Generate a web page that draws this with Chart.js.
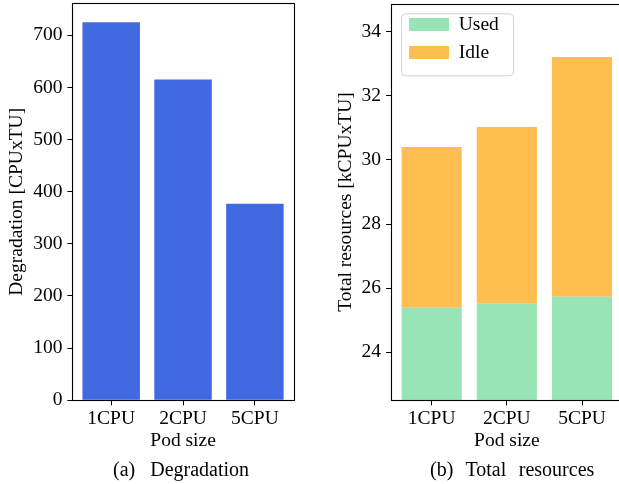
<!DOCTYPE html>
<html>
<head>
<meta charset="utf-8">
<script src="https://cdn.jsdelivr.net/npm/chart.js@4.4.1/dist/chart.umd.min.js"></script>
<style>
  html, body { margin: 0; padding: 0; background: #fff; overflow: hidden; width: 619px; height: 484px; }
  .panel { position: absolute; top: 0; }
  #wrapA { left: 0; }
  #wrapB { left: 310px; }
  .caption {
    position: absolute; top: 458.8px; white-space: pre;
    font-family: 'Liberation Serif', 'DejaVu Serif', serif; font-size: 20px; line-height: 20px; color: #000;
  }
  #capA { left: 113px; word-spacing: 10px; }
  #capB { left: 430px; word-spacing: 7.5px; }
</style>
</head>
<body>
<div class="panel" id="wrapA"><canvas id="chartA" width="310" height="484"></canvas></div>
<div class="panel" id="wrapB"><canvas id="chartB" width="320" height="484"></canvas></div>
<div class="caption" id="capA">(a) Degradation</div>
<div class="caption" id="capB">(b) Total resources</div>
<script>
// data
const podSizes = ["1CPU", "2CPU", "5CPU"];
const degradation = [725, 615, 377];
const usedRes = [25.39, 25.51, 25.73];
const idleRes = [5.01, 5.52, 7.48];
const degTicks = [0, 100, 200, 300, 400, 500, 600, 700];
const resTicks = [24, 26, 28, 30, 32, 34];

const FONT = "'Liberation Serif', 'DejaVu Serif', serif";
const FS = 19.5;
Chart.defaults.font.family = FONT;
Chart.defaults.font.size = FS;
Chart.defaults.color = '#000';

// box around the plot area (matplotlib spines)
const framePlugin = {
    id: 'frame',
    afterDatasetsDraw(chart) {
        const a = chart.chartArea;
        const ctx = chart.ctx;
        ctx.save();
        ctx.strokeStyle = '#000';
        ctx.lineWidth = 1.1;
        ctx.strokeRect(Math.round(a.left) + 0.5, Math.round(a.top) + 0.5,
            Math.round(a.right) - Math.round(a.left), Math.round(a.bottom) - Math.round(a.top));
        ctx.restore();
    }
};

// legend frame + nudge of the legend inside the axes
const legendBoxPlugin = {
    id: 'legendBox',
    afterLayout(chart) {
        const o = chart.options.plugins.legendBox;
        if (chart.legend && o) {
            chart.legend.left += o.dx;
            chart.legend.top += o.dy;
        }
    },
    beforeDraw(chart, args, opts) {
        if (!opts || !opts.w) return;
        const a = chart.chartArea;
        const ctx = chart.ctx;
        ctx.save();
        ctx.beginPath();
        ctx.roundRect(a.left + opts.x + 0.5, a.top + opts.y + 0.5, opts.w, opts.h, 4);
        ctx.fillStyle = 'rgba(255,255,255,0.8)';
        ctx.fill();
        ctx.strokeStyle = '#d4d4d4';
        ctx.lineWidth = 1;
        ctx.stroke();
        ctx.restore();
    }
};

function xAxis() {
    return {
        type: 'linear',
        min: -0.54,
        max: 2.54,
        offset: false,
        afterBuildTicks: s => { s.ticks = podSizes.map((c, i) => ({ value: i })); },
        afterFit: s => { s.height = 83.7; s.paddingLeft = 0; s.paddingRight = 0; },
        ticks: { callback: v => podSizes[v], padding: 2, maxRotation: 0, autoSkip: false },
        grid: { offset: false, drawOnChartArea: false, drawTicks: true, tickLength: 5, color: '#000', lineWidth: 1 },
        border: { display: false },
        title: { display: true, text: 'Pod size', padding: { top: 31.2, bottom: 31.2 } }
    };
}

function yAxis(min, max, ticks, width, title, titlePad) {
    return {
        min: min,
        max: max,
        afterBuildTicks: s => { s.ticks = ticks.map(v => ({ value: v })); },
        afterFit: s => { s.width = width; s.paddingTop = 0; s.paddingBottom = 0; },
        ticks: { padding: 5 },
        grid: { drawOnChartArea: false, drawTicks: true, tickLength: 5, color: '#000', lineWidth: 1 },
        border: { display: false },
        title: { display: true, text: title, padding: { top: titlePad, bottom: titlePad } }
    };
}

new Chart(document.getElementById('chartA'), {
    type: 'bar',
    data: {
        datasets: [{
            label: 'Degradation',
            data: degradation.map((v, i) => ({ x: i, y: v })),
            backgroundColor: '#4169E1',
            barPercentage: 0.8,
            categoryPercentage: 1
        }]
    },
    options: {
        responsive: false,
        animation: false,
        layout: { padding: { left: 0, right: 16.3, top: 3.3, bottom: 0 } },
        plugins: {
            legend: { display: false },
            tooltip: { enabled: false }
        },
        scales: {
            x: xAxis(),
            y: yAxis(0, 761.25, degTicks, 72.4, 'Degradation [CPUxTU]', 5.3)
        }
    },
    plugins: [framePlugin]
});

new Chart(document.getElementById('chartB'), {
    type: 'bar',
    data: {
        datasets: [{
            label: 'Used',
            data: usedRes.map((v, i) => ({ x: i, y: v })),
            backgroundColor: '#97E4B5',
            barPercentage: 0.8,
            categoryPercentage: 1,
            grouped: false
        }, {
            label: 'Idle',
            data: idleRes.map((v, i) => ({ x: i, y: v })),
            backgroundColor: '#FEBE50',
            barPercentage: 0.8,
            categoryPercentage: 1,
            grouped: false
        }]
    },
    options: {
        responsive: false,
        animation: false,
        layout: { padding: { left: 0, right: 7.4, top: 3.8, bottom: 0 } },
        plugins: {
            legend: {
                position: 'chartArea',
                align: 'start',
                labels: { boxWidth: 40, boxHeight: 13, padding: 8.5, color: '#000', font: { family: FONT, size: FS } }
            },
            legendBox: { dx: 9.4, dy: 6.2, x: 10, y: 9.5, w: 112, h: 62 },
            tooltip: { enabled: false }
        },
        scales: {
            x: xAxis(),
            y: Object.assign(yAxis(22.5, 34.87, resTicks, 81.1, 'Total resources [kCPUxTU]', 23.8), { stacked: true })
        }
    },
    plugins: [framePlugin, legendBoxPlugin]
});
</script>
</body>
</html>
